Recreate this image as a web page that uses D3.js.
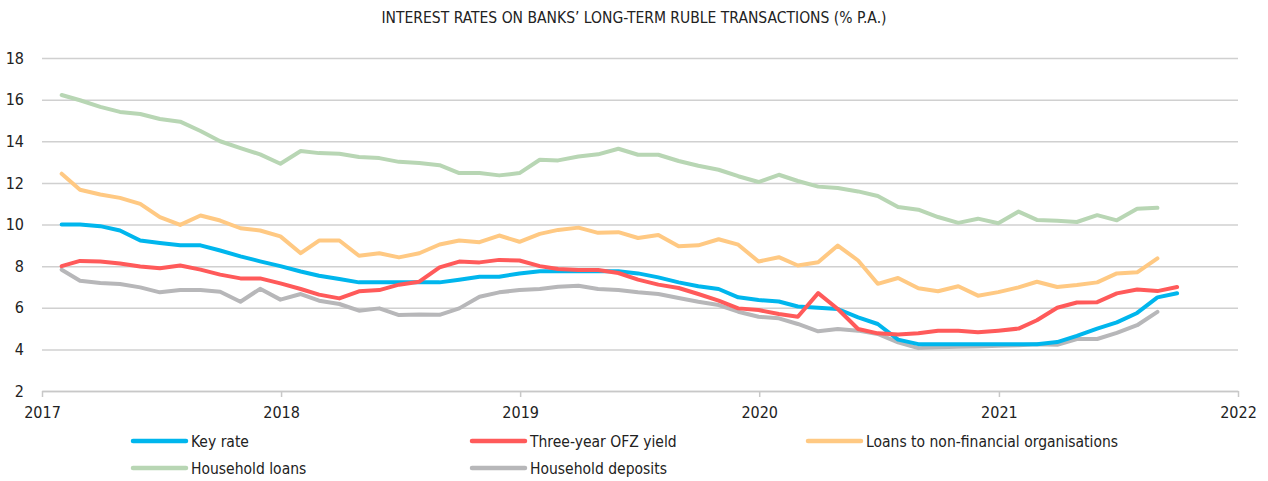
<!DOCTYPE html>
<html>
<head>
<meta charset="utf-8">
<script src="https://cdn.jsdelivr.net/npm/d3@7"></script>
<style>
  body { margin: 0; background: #fff; }
  text { font-family: "Liberation Sans Narrow", "DejaVu Sans Condensed", sans-serif; fill: #222; }
</style>
</head>
<body>
<div id="chart"></div>
<script>
// monthly values, month-end, starting Jan 2017
var keyRate = [10.0, 10.0, 9.92, 9.71, 9.23, 9.11, 9.0, 9.0, 8.75, 8.47, 8.23, 8.0,
    7.74, 7.54, 7.38, 7.22, 7.22, 7.22, 7.22, 7.22, 7.35, 7.49, 7.49, 7.65,
    7.75, 7.75, 7.75, 7.75, 7.75, 7.65, 7.46, 7.22, 7.03, 6.9, 6.5, 6.37,
    6.3, 6.06, 6.0, 5.94, 5.54, 5.22, 4.47, 4.25, 4.25, 4.25, 4.25, 4.25,
    4.25, 4.25, 4.35, 4.65, 5.0, 5.3, 5.75, 6.5, 6.7];
var ofzYield = [8.0, 8.25, 8.22, 8.13, 7.98, 7.9, 8.03, 7.83, 7.59, 7.41, 7.41, 7.17,
    6.9, 6.63, 6.45, 6.79, 6.85, 7.11, 7.25, 7.94, 8.22, 8.18, 8.3, 8.27,
    8.0, 7.86, 7.81, 7.81, 7.67, 7.35, 7.11, 6.95, 6.66, 6.34, 5.97, 5.89,
    5.7, 5.57, 6.7, 5.94, 4.98, 4.77, 4.71, 4.77, 4.9, 4.9, 4.82, 4.9,
    5.0, 5.4, 6.0, 6.25, 6.27, 6.69, 6.88, 6.8, 7.0];
var corpLoans = [12.44, 11.67, 11.44, 11.28, 10.99, 10.35, 9.98, 10.43, 10.19, 9.82, 9.71, 9.43,
    8.62, 9.23, 9.23, 8.5, 8.62, 8.42, 8.62, 9.04, 9.23, 9.15, 9.47, 9.17,
    9.55, 9.74, 9.85, 9.6, 9.63, 9.35, 9.5, 8.95, 9.0, 9.29, 9.03, 8.22,
    8.43, 8.03, 8.19, 8.99, 8.27, 7.15, 7.43, 6.94, 6.79, 7.03, 6.58, 6.75,
    6.98, 7.25, 7.0, 7.09, 7.22, 7.65, 7.7, 8.37];
var householdLoans = [16.22, 15.97, 15.65, 15.41, 15.31, 15.07, 14.94, 14.49, 14.0, 13.67, 13.37, 12.92,
    13.53, 13.43, 13.4, 13.24, 13.19, 13.01, 12.95, 12.85, 12.47, 12.47, 12.36, 12.47,
    13.11, 13.08, 13.27, 13.37, 13.64, 13.35, 13.35, 13.05, 12.82, 12.63, 12.32, 12.04,
    12.39, 12.09, 11.82, 11.75, 11.59, 11.37, 10.84, 10.71, 10.36, 10.08, 10.28, 10.06,
    10.62, 10.22, 10.18, 10.12, 10.45, 10.2, 10.76, 10.8];
var householdDeposits = [7.83, 7.3, 7.19, 7.14, 6.98, 6.74, 6.85, 6.85, 6.77, 6.29, 6.91, 6.39,
    6.66, 6.34, 6.18, 5.86, 5.97, 5.65, 5.68, 5.66, 5.97, 6.53, 6.74, 6.85,
    6.9, 7.01, 7.06, 6.9, 6.85, 6.74, 6.66, 6.47, 6.29, 6.13, 5.81, 5.57,
    5.49, 5.22, 4.87, 4.98, 4.9, 4.74, 4.34, 4.06, 4.1, 4.13, 4.14, 4.18,
    4.2, 4.25, 4.22, 4.5, 4.5, 4.79, 5.16, 5.8];

var seriesNames = ["Key rate", "Three-year OFZ yield", "Loans to non-financial organisations",
    "Household loans", "Household deposits"];
var seriesColors = ["#00b6ed", "#ff5a5a", "#ffc983", "#b8d6b4", "#b7b7b9"];
var yTicks = [2, 4, 6, 8, 10, 12, 14, 16, 18];
var xTicks = [2017, 2018, 2019, 2020, 2021, 2022];
var title = "INTEREST RATES ON BANKS\u2019 LONG-TERM RUBLE TRANSACTIONS (% P.A.)";

function RateChart(_series){
    this.series = _series;
    this.initVis();
}

RateChart.prototype.initVis = function(){
    var vis = this;
    vis.width = 1268;
    vis.height = 481;
    vis.margin = {top: 58, right: 30, bottom: 90, left: 42};

    vis.svg = d3.select("#chart").append("svg")
        .attr("width", vis.width)
        .attr("height", vis.height);

    vis.x = d3.scaleTime()
        .domain([new Date(xTicks[0], 0, 1), new Date(xTicks[xTicks.length - 1], 0, 1)])
        .range([vis.margin.left, vis.width - vis.margin.right]);
    vis.y = d3.scaleLinear()
        .domain([yTicks[0], yTicks[yTicks.length - 1]])
        .range([vis.height - vis.margin.bottom, vis.margin.top]);

    vis.svg.append("text")
        .attr("x", vis.width / 2)
        .attr("y", 23)
        .attr("text-anchor", "middle")
        .attr("font-size", "15.5px")
        .text(title);

    // horizontal gridlines + y labels
    var yAxis = d3.axisLeft(vis.y)
        .tickValues(yTicks)
        .tickSize(-(vis.x.range()[1] - vis.x.range()[0]))
        .tickPadding(18);
    var gy = vis.svg.append("g")
        .attr("transform", "translate(" + vis.margin.left + ",0)")
        .call(yAxis);
    gy.select(".domain").remove();
    gy.selectAll("line").attr("stroke", "#d0d0d0").attr("stroke-width", 1.5);
    gy.selectAll("text").attr("font-size", "16px").attr("font-family", null);

    var xAxis = d3.axisBottom(vis.x)
        .tickValues(xTicks.map(function(d){ return new Date(d, 0, 1); }))
        .tickFormat(d3.timeFormat("%Y"))
        .tickSize(6)
        .tickSizeOuter(0)
        .tickPadding(10);
    var gx = vis.svg.append("g")
        .attr("transform", "translate(0," + vis.y(yTicks[0]) + ")")
        .call(xAxis);
    gx.select(".domain").attr("stroke", "#c8c8c8").attr("stroke-width", 1.5);
    gx.selectAll("line").attr("stroke", "#c8c8c8").attr("stroke-width", 1.5);
    gx.selectAll("text").attr("font-size", "16px").attr("font-family", null);

    vis.updateVis();
    vis.drawLegend();
}

RateChart.prototype.updateVis = function(){
    var vis = this;
    var line = d3.line()
        .x(function(d, i){ return vis.x(new Date(2017, i + 1, 0)); })
        .y(function(d){ return vis.y(d); })
        .curve(d3.curveLinear);

    // draw in the order the reference stacks them
    var order = [3, 2, 4, 0, 1];
    vis.svg.selectAll(".rate-line")
        .data(order)
        .enter()
        .append("path")
        .attr("class", "rate-line")
        .attr("d", function(k){ return line(vis.series[k]); })
        .attr("fill", "none")
        .attr("stroke", function(k){ return seriesColors[k]; })
        .attr("stroke-width", 4)
        .attr("stroke-linejoin", "round")
        .attr("stroke-linecap", "round");
}

RateChart.prototype.drawLegend = function(){
    var vis = this;
    var colX = [133, 472, 808];
    var rowY = [441, 468];
    var items = vis.svg.selectAll(".legend-item")
        .data(seriesNames)
        .enter()
        .append("g")
        .attr("class", "legend-item")
        .attr("transform", function(d, i){
            return "translate(" + colX[i % 3] + "," + rowY[Math.floor(i / 3)] + ")";
        });
    items.append("line")
        .attr("x1", 0).attr("x2", 53)
        .attr("stroke", function(d, i){ return seriesColors[i]; })
        .attr("stroke-width", 4.5)
        .attr("stroke-linecap", "round");
    items.append("text")
        .attr("x", 58)
        .attr("y", 5.5)
        .attr("font-size", "15.5px")
        .text(function(d){ return d; });
}

var chart = new RateChart([keyRate, ofzYield, corpLoans, householdLoans, householdDeposits]);
</script>
</body>
</html>
